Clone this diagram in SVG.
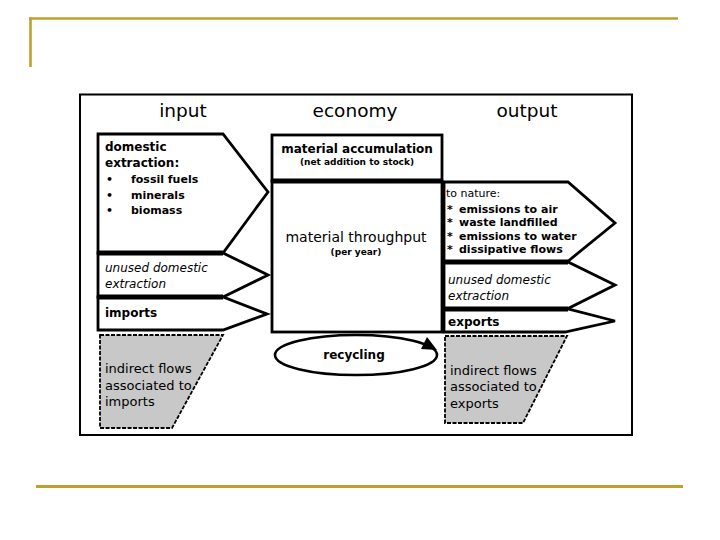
<svg xmlns="http://www.w3.org/2000/svg" width="720" height="540" viewBox="0 0 720 540">
<style>
  .gold{stroke:#C09F2E;fill:none}
  .box{fill:#fff;stroke:#000;stroke-width:2.8;stroke-linejoin:miter}
  .band{stroke:#000;stroke-width:5;fill:none}
  .ind{fill:#C8C8C8;stroke:#000;stroke-width:1.8;stroke-dasharray:4 1.5}
  text{font-family:"DejaVu Sans","Liberation Sans",sans-serif;fill:#000}
  .head{font-size:18.5px}
  .b12{font-size:12px;font-weight:bold}
  .b11{font-size:11px;font-weight:bold}
  .i12{font-size:12px;font-style:italic}
  .n13{font-size:13px}
  .n11{font-size:11px}
  .mid{text-anchor:middle}
</style>
<rect width="720" height="540" fill="#fff"/>
<g id="frame-decor">
  <line class="gold" x1="29" y1="18.5" x2="678" y2="18.5" stroke-width="2.6"/>
  <line class="gold" x1="30.5" y1="17.5" x2="30.5" y2="67" stroke-width="2.6"/>
  <line class="gold" x1="36" y1="486.5" x2="683" y2="486.5" stroke-width="3"/>
</g>
<rect id="frame" x="80" y="94.5" width="552" height="340.5" fill="#fff" stroke="#000" stroke-width="2"/>
<g id="headers">
  <text class="head mid" x="183" y="117">input</text>
  <text class="head mid" x="355" y="117">economy</text>
  <text class="head mid" x="527" y="117">output</text>
</g>
<g id="domestic-extraction">
  <polygon class="box" points="98,134 223,134 268,192 223,253 98,253"/>
  <text class="b12" x="105" y="151">domestic</text>
  <text class="b12" x="105" y="167">extraction:</text>
  <text class="b11" x="106" y="183">•</text>
  <text class="b11" x="131" y="183">fossil fuels</text>
  <text class="b11" x="106" y="199">•</text>
  <text class="b11" x="131" y="199">minerals</text>
  <text class="b11" x="106" y="214">•</text>
  <text class="b11" x="131" y="214">biomass</text>
</g>
<g id="unused-domestic-in">
  <polygon class="box" points="98,253 223,253 268,275 223,297 98,297"/>
  <text class="i12" x="105" y="272">unused domestic</text>
  <text class="i12" x="105" y="288">extraction</text>
</g>
<g id="imports">
  <polygon class="box" points="98,297 223,297 267,314 223,330 98,330"/>
  <text class="b12" x="105" y="317">imports</text>
</g>
<g id="indirect-imports">
  <polygon class="ind" points="100,335 223,335 172,428 100,428"/>
  <text class="n13" x="105" y="373">indirect flows</text>
  <text class="n13" x="105" y="389.5">associated to</text>
  <text class="n13" x="105" y="406">imports</text>
</g>
<g id="material-accumulation">
  <rect class="box" x="272" y="135" width="170" height="46"/>
  <text class="b12 mid" x="357" y="153">material accumulation</text>
  <text class="mid" x="357" y="165" font-size="9" font-weight="bold">(net addition to stock)</text>
</g>
<g id="material-throughput">
  <rect class="box" x="272" y="181" width="170" height="151"/>
  <text class="mid" x="356" y="242" font-size="14">material throughput</text>
  <text class="mid" x="356" y="255" font-size="9" font-weight="bold">(per year)</text>
</g>
<g id="recycling">
  <ellipse cx="356" cy="355" rx="81" ry="20" fill="#fff" stroke="#000" stroke-width="2.6"/>
  <text class="b12 mid" x="354" y="359">recycling</text>
</g>
<g id="to-nature">
  <polygon class="box" points="444,182 568,182 615,223 567,262 444,262"/>
  <text class="n11" x="446" y="197">to nature:</text>
  <text class="b11" x="447" y="213">*</text>
  <text class="b11" x="459" y="213">emissions to air</text>
  <text class="b11" x="447" y="226">*</text>
  <text class="b11" x="459" y="226">waste landfilled</text>
  <text class="b11" x="447" y="239.5">*</text>
  <text class="b11" x="459" y="239.5">emissions to water</text>
  <text class="b11" x="447" y="253">*</text>
  <text class="b11" x="459" y="253">dissipative flows</text>
</g>
<g id="unused-domestic-out">
  <polygon class="box" points="444,262 568,262 615,285 567,309 444,309"/>
  <text class="i12" x="448" y="284">unused domestic</text>
  <text class="i12" x="448" y="300">extraction</text>
</g>
<g id="exports">
  <polygon class="box" points="444,309 568,309 615,321 565,332 444,332"/>
  <text class="b12" x="448" y="326">exports</text>
</g>
<g id="indirect-exports">
  <polygon class="ind" points="445,336 567,336 523,423 445,423"/>
  <text class="n13" x="450" y="375">indirect flows</text>
  <text class="n13" x="450" y="391">associated to</text>
  <text class="n13" x="450" y="407.5">exports</text>
</g>
<g id="connectors">
  <line class="band" x1="98" y1="253" x2="223" y2="253"/>
  <line class="band" x1="98" y1="297" x2="223" y2="297"/>
  <line class="band" x1="272" y1="181" x2="442" y2="181"/>
  <line class="band" x1="444" y1="262" x2="568" y2="262"/>
  <line class="band" x1="444" y1="309" x2="568" y2="309"/>
  <polygon points="437,350 421,349 427,337" fill="#000"/>
</g>
</svg>
